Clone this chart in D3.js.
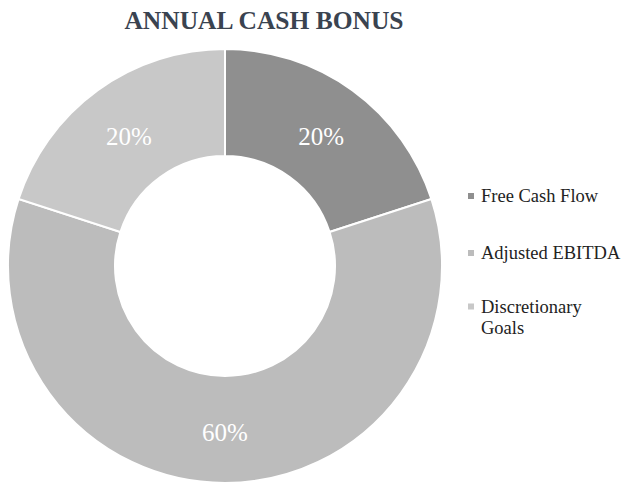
<!DOCTYPE html>
<html><head><meta charset="utf-8">
<script src="https://cdn.jsdelivr.net/npm/d3@7"></script>
<style>body{margin:0;background:#fff}</style>
</head><body>
<svg id="c" width="644" height="497"></svg>
<script>
const categories = ["Free Cash Flow", "Adjusted EBITDA", "Discretionary Goals"];
const values = [20, 60, 20];
const colors = ["#8f8f8f", "#bcbcbc", "#c8c8c8"];
const title = "ANNUAL CASH BONUS";

const svg = d3.select("#c");
const font = "'Liberation Serif','Times New Roman',serif";
svg.append("text").attr("x", 264).attr("y", 29).attr("text-anchor", "middle")
  .attr("font-family", font).attr("font-weight", "bold").attr("font-size", 25.5)
  .attr("fill", "#3a4350").text(title);

const cx = 225, cy = 266, R = 217, r = 110;
const data = categories.map((c, i) => ({cat: c, v: values[i], col: colors[i]}));
const pie = d3.pie().value(d => d.v).sort(null);
const arc = d3.arc().innerRadius(r).outerRadius(R);
const g = svg.append("g").attr("transform", `translate(${cx},${cy})`);
const arcs = pie(data);
g.selectAll("path").data(arcs).join("path").attr("d", arc)
  .attr("fill", d => d.data.col).attr("stroke", "#fff").attr("stroke-width", 2);
const lab = d3.arc().innerRadius((R + r) / 2).outerRadius((R + r) / 2);
g.selectAll("text").data(arcs).join("text")
  .attr("transform", d => `translate(${lab.centroid(d)})`)
  .attr("text-anchor", "middle").attr("dy", "0.45em")
  .attr("font-family", font).attr("font-size", 25).attr("fill", "#fff")
  .text(d => d.data.v + "%");

const legendY = [202, 259, 312.5];
const lg = svg.append("g");
data.forEach((d, i) => {
  const y = legendY[i];
  lg.append("rect").attr("x", 468).attr("y", y - 9).attr("width", 6).attr("height", 6).attr("fill", d.col);
  const t = lg.append("text").attr("x", 481).attr("y", y)
    .attr("font-family", font).attr("font-size", 18.5).attr("fill", "#222");
  if (d.cat === "Discretionary Goals") {
    t.append("tspan").attr("x", 481).text("Discretionary");
    t.append("tspan").attr("x", 481).attr("dy", 21).text("Goals");
  } else t.text(d.cat);
});
</script>
</body></html>
